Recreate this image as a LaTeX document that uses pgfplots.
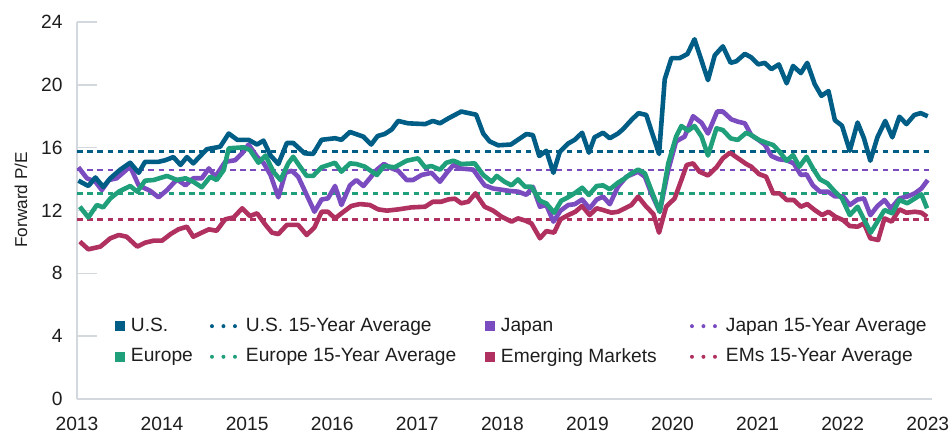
\documentclass[border=0pt]{standalone}
\usepackage{fontspec}
\setmainfont{Liberation Sans}
\usepackage{pgfplots}
\usepackage{pgfplotstable}
\pgfplotsset{compat=1.18}
\definecolor{usblue}{HTML}{005E86}
\definecolor{jppurple}{HTML}{7B4BC0}
\definecolor{eugreen}{HTML}{20A07A}
\definecolor{emred}{HTML}{B03060}
\definecolor{axgray}{HTML}{D3D8DE}
\definecolor{txt}{HTML}{1E1E1E}

% month index (0 = Jan 2013), forward P/E
\pgfplotstableread{
m v
0.2 13.9
1.6 13.56
2.6 14.1
3.7 13.5
4.7 14.05
6.1 14.6
7.5 15.04
8.7 14.4
9.6 15.1
11.5 15.1
12.45 15.2
13.6 15.4
14.6 14.9
15.5 15.4
16.4 15.0
17.4 15.47
18.3 15.9
20.2 16.06
21.4 16.9
22.6 16.5
24.2 16.5
25.4 16.2
26.3 16.45
27.3 15.5
28.4 14.96
29.6 16.3
30.5 16.3
32.1 15.64
33.3 15.6
34.5 16.5
36.4 16.6
37.3 16.5
38.5 17.0
40.4 16.7
41.5 16.2
42.4 16.74
43.4 16.87
44.4 17.16
45.3 17.7
46.7 17.55
49.1 17.5
50.2 17.7
51.2 17.55
52.4 17.87
54.2 18.3
56.3 18.1
57.3 16.9
58.2 16.4
59.4 16.15
61.2 16.2
63.4 16.87
64.3 16.8
65.2 15.47
66.2 15.8
67.2 14.4
68.1 15.74
69.3 16.27
70.2 16.5
71.25 16.95
72.2 15.68
73.0 16.66
74.2 16.95
75.15 16.6
76.3 16.9
77.0 17.17
78.2 17.76
79.2 18.2
80.3 18.08
81.0 17.1
82.1 15.6
82.9 20.35
83.85 21.7
85.0 21.7
86.1 21.96
87.1 22.9
89.0 20.3
89.96 21.88
91.1 22.45
92.2 21.4
93.0 21.5
94.2 21.97
95.1 21.75
96.1 21.3
97.0 21.4
97.95 21.0
99.0 21.3
100.1 20.1
101.0 21.2
102.1 20.75
103.0 21.4
104.05 20.05
105.0 19.3
106.0 19.6
106.9 17.75
107.9 17.4
109.0 15.8
110.1 17.6
111.0 16.6
111.9 15.17
112.9 16.66
114.0 17.7
115.0 16.66
116.0 17.97
117.0 17.5
118.1 18.08
119.0 18.2
120.0 18.0
}\us

\pgfplotstableread{
m v
0.2 14.75
1.4 14.05
2.6 13.83
3.5 13.3
4.5 13.94
5.6 14.05
7.5 14.8
8.7 13.6
10.3 13.26
11.5 12.84
12.7 13.3
14.1 13.98
15.3 13.6
16.4 14.05
17.6 14.05
18.6 14.68
19.5 14.15
20.9 15.1
22.3 15.2
23.3 15.64
24.2 16.2
25.4 15.42
26.3 15.04
27.3 14.26
28.4 12.84
29.4 14.4
30.3 14.53
31.2 14.15
32.4 12.99
33.5 11.92
34.5 12.7
35.4 12.77
36.4 13.56
37.3 12.35
38.5 13.6
39.4 13.94
40.4 13.56
41.3 14.05
42.3 14.6
43.3 14.96
44.4 14.68
45.3 14.53
46.5 13.94
47.4 13.94
48.6 14.26
50.0 14.4
51.2 13.83
52.1 14.37
53.1 14.9
54.0 14.68
55.9 14.6
56.6 14.15
57.5 13.6
58.7 13.4
61.1 13.24
62.2 13.2
63.4 13.0
64.3 13.51
65.3 12.24
66.2 12.35
67.2 11.29
68.2 11.99
69.3 12.35
70.2 12.4
71.25 12.7
72.3 12.13
73.3 12.7
74.2 12.88
75.15 12.4
76.3 13.51
77.5 14.15
79.15 14.47
80.1 14.15
81.0 13.1
82.2 11.92
83.4 14.58
84.5 16.4
85.7 16.7
86.9 18.0
88.1 17.58
89.0 16.9
90.3 18.3
91.1 18.3
92.3 17.8
93.25 17.65
94.2 17.55
95.1 16.8
96.1 16.5
97.0 16.2
97.95 15.47
99.0 15.26
100.1 15.2
101.1 15.0
102.1 14.26
102.9 14.3
103.8 13.6
104.8 13.2
105.9 13.2
106.9 12.9
108.05 12.9
109.0 12.35
110.1 12.7
111.0 12.77
111.9 11.7
112.9 12.28
113.9 12.67
114.8 12.13
116.0 12.77
117.2 12.9
118.2 13.1
119.1 13.4
120.0 13.94
}\jp

\pgfplotstableread{
m v
0.4 12.24
1.6 11.56
2.8 12.35
3.7 12.2
4.7 12.77
5.9 13.2
7.5 13.56
8.5 13.2
9.6 13.9
10.8 13.94
12.7 14.2
14.1 13.94
15.3 14.05
16.4 13.83
17.6 13.48
18.8 14.15
19.7 13.94
20.7 14.58
21.4 15.96
23.5 16.02
24.4 15.85
25.6 15.04
26.6 15.5
27.7 14.47
28.7 13.94
29.8 15.0
30.5 15.42
31.4 14.83
32.4 14.2
33.3 14.2
34.5 14.75
36.4 15.04
37.3 14.47
38.5 15.0
39.4 14.96
40.6 14.79
42.3 14.26
43.3 14.83
44.8 14.75
46.5 15.17
48.1 15.32
49.1 14.75
50.0 14.83
51.2 14.6
52.1 15.04
53.1 15.17
54.2 14.96
56.1 15.0
57.3 14.26
58.5 13.83
59.2 14.2
60.3 13.83
61.3 13.6
62.2 13.98
63.2 13.51
64.1 13.51
65.3 12.62
66.2 12.45
67.3 11.86
68.3 12.62
69.3 12.85
70.3 13.13
71.25 13.45
72.2 12.99
73.3 13.56
74.2 13.6
75.15 13.35
76.3 13.77
77.3 14.05
78.2 14.37
79.15 14.6
80.1 14.37
81.0 13.3
82.2 11.92
83.4 15.0
84.5 16.7
85.25 17.38
86.2 17.08
87.1 17.38
88.1 16.7
89.0 15.5
90.2 17.23
91.1 17.12
92.2 16.59
93.2 16.49
94.4 16.95
95.1 16.8
96.2 16.49
97.2 16.32
98.2 16.17
99.1 15.74
100.1 15.17
101.0 15.53
101.9 14.79
102.9 15.42
103.8 14.68
104.8 13.98
105.85 13.73
106.9 13.2
107.9 12.77
109.0 11.71
110.1 12.24
111.0 11.44
111.95 10.59
112.9 11.29
113.9 12.03
115.0 11.82
116.0 12.67
117.1 12.46
118.2 12.77
119.1 13.03
119.9 12.14
}\eu

\pgfplotstableread{
m v
0.4 10.02
1.6 9.53
3.3 9.7
4.7 10.23
5.9 10.44
7.0 10.33
8.5 9.7
9.6 9.95
10.8 10.08
12.0 10.08
13.2 10.5
14.3 10.8
15.5 10.97
16.4 10.33
17.6 10.59
18.6 10.8
19.7 10.71
20.9 11.44
22.1 11.56
23.3 12.14
24.4 11.65
25.4 11.82
26.6 11.08
27.5 10.59
28.4 10.5
29.6 11.08
31.2 11.08
32.4 10.44
33.5 10.93
34.5 11.92
35.4 11.92
36.4 11.5
37.6 11.92
38.7 12.29
39.9 12.41
41.3 12.35
42.5 12.07
43.7 11.99
45.3 12.07
47.2 12.2
49.1 12.24
50.2 12.56
51.4 12.56
52.4 12.71
53.3 12.75
54.2 12.46
55.2 12.56
56.2 13.09
57.5 12.24
58.7 11.99
59.9 11.6
61.3 11.29
62.2 11.5
63.2 11.36
64.1 11.18
65.3 10.23
66.2 10.69
67.3 10.59
68.2 11.44
69.3 11.71
70.3 11.92
71.25 12.29
72.3 11.71
73.3 12.14
74.2 12.03
75.4 11.86
76.3 11.92
77.3 12.14
78.2 12.35
79.15 12.88
80.3 12.24
81.3 11.78
82.1 10.59
83.1 12.24
84.3 12.77
85.25 13.94
86.0 14.9
86.9 15.0
87.8 14.47
89.0 14.23
90.2 14.75
91.1 15.32
92.1 15.68
93.25 15.32
94.4 14.96
95.1 14.79
96.2 14.32
97.2 14.15
98.2 13.09
99.1 13.09
100.1 12.67
101.1 12.67
102.1 12.24
103.0 12.41
104.05 12.03
105.1 11.71
106.0 11.92
107.0 11.6
108.05 11.39
109.0 11.01
110.1 10.97
111.0 11.18
111.9 10.23
113.0 10.12
113.9 11.5
114.9 11.29
116.0 12.07
117.0 11.86
118.2 11.92
119.1 11.86
119.9 11.6
}\em

\pgfplotsset{
  sqleg/.style={legend image code/.code={\path[draw=none,fill=none] (0bp,0bp) -- (8bp,0bp);\fill[##1,draw=none] (0bp,-2.5bp) rectangle (4.9bp,2.5bp);}},
  dotleg/.style={legend image code/.code={\path[draw=none,fill=none] (0bp,0bp) -- (18bp,0bp);\draw[##1,line width=2bp,line cap=round,dash pattern=on 0bp off 5.75bp] (1bp,0bp) -- (13.5bp,0bp);}},
  avg/.style={line width=1.4bp, dash pattern=on 2.8bp off 2.3bp, forget plot},
  main/.style={line width=2.3bp, line join=round, forget plot},
}

\begin{document}
\begin{tikzpicture}
\path[use as bounding box] (-38.5bp,-17.5bp) rectangle (437.5bp,199.5bp);
\begin{axis}[
  at={(0,0)}, anchor=south west,
  scale only axis, width=427.5bp, height=188.5bp,
  xmin=0, xmax=120.6, ymin=0, ymax=24,
  axis lines=left,
  axis line style={axgray, line width=0.8bp, -},
  xtick={0,12,...,120},
  xticklabels={2013,2014,2015,2016,2017,2018,2019,2020,2021,2022,2023},
  ytick={0,4,...,24},
  xtick style={draw=none},
  ytick style={axgray, line width=0.8bp},
  tick align=inside,
  major tick length=10bp,
  /pgf/number format/assume math mode=true,
  tick label style={font=\fontsize{9.6bp}{11.5bp}\selectfont, text=txt},
  xticklabel style={inner sep=0pt, anchor=north, yshift=-9bp},
  yticklabel style={inner sep=0pt, anchor=east, xshift=-7bp},
  ylabel={Forward P/E},
  ylabel style={at={(axis description cs:-0.0655,0.528)}, anchor=center, font=\fontsize{8.6bp}{10bp}\selectfont, text=txt},
  legend columns=4,
  legend cell align=left,
  legend style={draw=none, fill=none, inner sep=0pt, outer sep=0pt,
    at={(axis description cs:0.0444,0.215)}, anchor=north west,
    font=\fontsize{9.6bp}{11.5bp}\selectfont, text=txt,
    nodes={inner sep=0pt}, column sep=0pt, row sep=7bp},
  clip=false,
]
% 15-year averages
\addplot[avg, usblue] coordinates {(0,15.78) (120.3,15.78)};
\addplot[avg, jppurple] coordinates {(0,14.58) (120.3,14.58)};
\addplot[avg, eugreen] coordinates {(0,13.1) (120.3,13.1)};
\addplot[avg, emred] coordinates {(0,11.44) (120.3,11.44)};
% series
\addplot[main, emred] table[x=m, y=v] {\em};
\addplot[main, jppurple] table[x=m, y=v] {\jp};
\addplot[main, eugreen] table[x=m, y=v] {\eu};
\addplot[main, usblue] table[x=m, y=v] {\us};
% legend
\addlegendimage{sqleg, usblue}
\addlegendentry{\makebox[39.5bp][l]{U.S.}}
\addlegendimage{dotleg, usblue}
\addlegendentry{\makebox[119.5bp][l]{U.S. 15-Year Average}}
\addlegendimage{sqleg, jppurple}
\addlegendentry{\makebox[94.5bp][l]{Japan}}
\addlegendimage{dotleg, jppurple}
\addlegendentry{Japan 15-Year Average}
\addlegendimage{sqleg, eugreen}
\addlegendentry{\makebox[39.5bp][l]{Europe}}
\addlegendimage{dotleg, eugreen}
\addlegendentry{\makebox[119.5bp][l]{Europe 15-Year Average}}
\addlegendimage{sqleg, emred}
\addlegendentry{\makebox[94.5bp][l]{Emerging Markets}}
\addlegendimage{dotleg, emred}
\addlegendentry{EMs 15-Year Average}
\end{axis}
\end{tikzpicture}
\end{document}
